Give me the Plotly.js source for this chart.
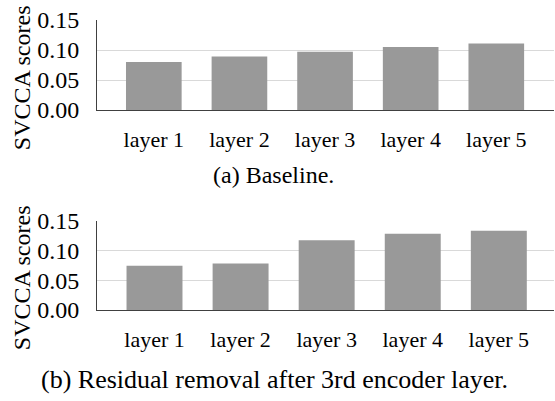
<!DOCTYPE html>
<html>
<head>
<meta charset="utf-8">
<script src="https://cdn.plot.ly/plotly-3.0.1.min.js"></script>
<style>html,body{margin:0;padding:0;background:#fff;}#chart{width:555px;height:401px;}</style>
</head>
<body>
<div id="chart"></div>
<script>
const categories = ["layer 1", "layer 2", "layer 3", "layer 4", "layer 5"];
const baselineScores = [0.080, 0.089, 0.097, 0.105, 0.111];
const residualRemovalScores = [0.074, 0.078, 0.117, 0.128, 0.133];
const yTickVals = [0, 0.05, 0.10, 0.15];
const yTickText = ["0.00", "0.05", "0.10", "0.15"];
const yTitle = "SVCCA scores";
const captionA = "(a) Baseline.";
const captionB = "(b) Residual removal after 3rd encoder layer.";

const W = 555, H = 401, L = 97, R = 1;
const px2x = p => (p - L) / (W - L - R);
const px2y = p => 1 - p / H;

const FAM = "Liberation Serif, Times New Roman, serif";
const f = size => ({family: FAM, size: size, color: "#000"});
const barColor = "#999999";

const traces = [
  {type: "bar", x: categories, y: baselineScores, xaxis: "x", yaxis: "y", marker: {color: barColor}, hoverinfo: "none"},
  {type: "bar", x: categories, y: residualRemovalScores, xaxis: "x2", yaxis: "y2", marker: {color: barColor}, hoverinfo: "none"}
];

function yax(domain, anchor) {
  return {
    domain: domain, anchor: anchor, range: [0, 0.15], tickvals: yTickVals, ticktext: yTickText,
    showgrid: true, gridcolor: "#d9d9d9", gridwidth: 1, zeroline: false,
    showline: true, linecolor: "#404040", linewidth: 1, ticks: "",
    tickfont: f(24), ticklabelstandoff: 12, fixedrange: true
  };
}
function xax(range, anchor) {
  return {
    anchor: anchor, range: range, type: "category", showline: true, linecolor: "#404040", linewidth: 1,
    showgrid: false, zeroline: false, ticks: "", tickfont: f(22),
    ticklabelstandoff: 10, fixedrange: true
  };
}

const layout = {
  width: W, height: H,
  margin: {l: L, r: R, t: 0, b: 0},
  paper_bgcolor: "#fff", plot_bgcolor: "#fff",
  showlegend: false, bargap: 0.35,
  font: f(20),
  xaxis: xax([-0.6636, 4.674], "y"),
  yaxis: yax([px2y(110), px2y(20)], "x"),
  xaxis2: xax([-0.668, 4.641], "y2"),
  yaxis2: yax([px2y(310), px2y(220.5)], "x2"),
  annotations: [
    {text: yTitle, xref: "paper", yref: "paper", x: px2x(21.7), y: px2y(77.5), xanchor: "center", yanchor: "middle", textangle: -90, showarrow: false, font: f(24)},
    {text: yTitle, xref: "paper", yref: "paper", x: px2x(21.7), y: px2y(277.5), xanchor: "center", yanchor: "middle", textangle: -90, showarrow: false, font: f(24)},
    {text: captionA, xref: "paper", yref: "paper", x: px2x(273.3), y: px2y(175), xanchor: "center", yanchor: "middle", showarrow: false, font: f(24)},
    {text: captionB, xref: "paper", yref: "paper", x: px2x(274.7), y: px2y(379), xanchor: "center", yanchor: "middle", showarrow: false, font: f(26)}
  ]
};

Plotly.newPlot("chart", traces, layout, {displayModeBar: false, staticPlot: true});
</script>
</body>
</html>
